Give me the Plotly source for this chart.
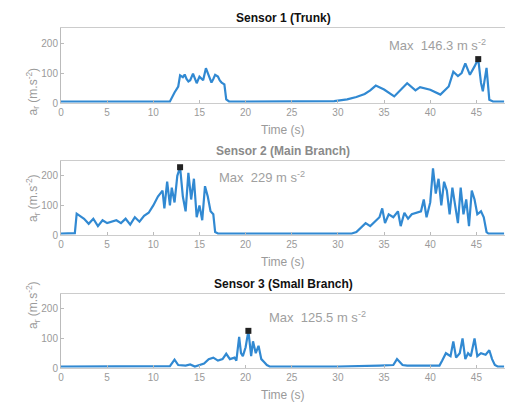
import plotly.graph_objects as go
from plotly.subplots import make_subplots

# ---- data ----
s1_t = [0, 2, 4, 6, 8, 10, 11.8, 12.3, 12.7, 12.9, 13.2, 13.4, 13.6, 13.8, 14.0, 14.3, 14.5, 14.7,
        15.0, 15.2, 15.4, 15.7, 15.9, 16.1, 16.3, 16.5, 16.7, 17.0, 17.2, 17.4, 17.7, 17.9, 18.2,
        20, 25, 29.6, 31, 32, 32.9, 33.5, 34.1, 35, 36.1, 36.8, 37.5, 38.4, 38.9, 40.0, 41.1,
        42.0, 42.5, 43.0, 43.4, 43.8, 44.3, 44.8, 45.2, 45.5, 45.7, 46.1, 46.4, 46.8, 48]
s1_v = [5, 5, 5, 6, 5, 5, 5, 35, 55, 92, 86, 95, 80, 72, 76, 98, 80, 66,
        88, 82, 76, 116, 100, 85, 68, 80, 94, 88, 75, 68, 62, 12, 5,
        5, 5, 6, 12, 20, 30, 42, 58, 45, 22, 45, 66, 42, 53, 44, 28,
        55, 104, 90, 100, 132, 94, 122, 146.3, 67, 39, 117, 11, 5, 5]

s2_t = [0, 1.0, 1.5, 1.7, 2.0, 2.5, 3.0, 3.5, 4.0, 4.5, 5.0, 5.5, 6.0, 6.5, 7.0, 7.5, 8.0, 8.5,
        9.0, 9.5, 10.0, 10.5, 11.0, 11.2, 11.5, 11.8, 12.0, 12.3, 12.6, 12.9, 13.2, 13.5, 13.8,
        14.1, 14.4, 14.7, 15.0, 15.3, 15.6, 15.9, 16.2, 16.5, 16.7, 17.0, 20, 25, 31.5,
        32.0, 32.5, 33.0, 33.5, 34.0, 34.5, 34.8, 35.1, 35.5, 36.0, 36.5, 36.8, 37.2, 37.6,
        38.0, 38.5, 39.0, 39.3, 39.6, 40.0, 40.3, 40.6, 40.9, 41.2, 41.5, 41.8, 42.1, 42.4,
        42.7, 43.0, 43.3, 43.6, 43.9, 44.2, 44.5, 44.8, 45.1, 45.5, 45.8, 46.1, 46.3, 48]
s2_v = [5, 5, 6, 72, 65, 55, 38, 55, 30, 50, 40, 45, 50, 40, 55, 35, 60, 45,
        65, 75, 100, 130, 150, 90, 180, 100, 160, 110, 200, 229, 130, 80, 210,
        120, 190, 60, 100, 50, 165, 130, 80, 70, 10, 5, 5, 5, 5,
        10, 25, 40, 30, 45, 60, 90, 40, 70, 60, 80, 30, 75, 55,
        70, 75, 80, 120, 60, 110, 225, 140, 190, 100, 180, 150, 70, 160,
        100, 40, 160, 70, 120, 30, 150, 120, 70, 80, 60, 10, 5, 5]

s3_t = [0, 4, 8, 11.8, 12.3, 12.7, 13.5, 14.0, 14.5, 15.0, 15.5, 16.0, 16.5, 17.0, 17.5, 17.9,
        18.3, 18.8, 19.0, 19.3, 19.5, 19.7, 20.0, 20.3, 20.6, 20.8, 21.1, 21.4, 21.7, 22.0,
        22.3, 22.6, 26, 30, 34.5, 36.0, 36.4, 37.0, 37.5, 41.0, 41.3, 41.7, 42.2, 42.5, 42.8,
        43.2, 43.5, 43.8, 44.1, 44.4, 44.8, 45.1, 45.5, 46.0, 46.4, 46.7, 47.0, 47.3, 48]
s3_v = [5, 5, 5, 6, 28, 10, 8, 12, 5, 10, 15, 30, 35, 25, 30, 48,
        30, 35, 25, 105, 50, 40, 70, 125.5, 40, 90, 50, 75, 30, 20,
        10, 5, 5, 5, 8, 10, 30, 10, 8, 8, 25, 50, 40, 90, 35,
        50, 100, 30, 50, 40, 100, 40, 50, 45, 60, 30, 10, 5, 5]

series = [(s1_t, s1_v), (s2_t, s2_v), (s3_t, s3_v)]
titles = ["Sensor 1 (Trunk)", "Sensor 2 (Main Branch)", "Sensor 3 (Small Branch)"]
title_colors = ["#111111", "#8a8a8a", "#111111"]
max_vals = [146.3, 229, 125.5]
max_text_pos = [(35.3, 193), (16.9, 197), (22.3, 172)]
x_ticks = [0, 5, 10, 15, 20, 25, 30, 35, 40, 45]
y_ticks = [0, 100, 200]

W, H = 505, 407
fig = make_subplots(rows=3, cols=1)

# pixel layout of plot areas (top, bottom)
rows_px = [(28, 103), (161, 235), (294, 368)]
x_left_px = 61
line_color = "#3189d2"
grey = "#9a9a9a"
FONT = "Liberation Sans"

for i, (t, v) in enumerate(series):
    r = i + 1
    fig.add_trace(go.Scatter(x=t, y=v, mode="lines",
                             line=dict(color=line_color, width=2.2)), row=r, col=1)
    k = v.index(max(v))
    fig.add_trace(go.Scatter(x=[t[k]], y=[v[k]], mode="markers",
                             marker=dict(symbol="square", size=6, color="#222222")), row=r, col=1)
    top, bot = rows_px[i]
    xa = "xaxis" if r == 1 else f"xaxis{r}"
    ya = "yaxis" if r == 1 else f"yaxis{r}"
    fig.layout[xa].update(domain=[x_left_px / W, 1.0], range=[0, 48.1],
                          tickvals=x_ticks, ticks="inside", ticklen=3,
                          tickfont=dict(size=10, color=grey, family=FONT),
                          showgrid=False, zeroline=False, showline=True, mirror=True,
                          linecolor="#cccccc", tickcolor="#bbbbbb", automargin=False)
    fig.layout[ya].update(domain=[1 - bot / H, 1 - top / H], range=[0, 250],
                          tickvals=y_ticks, ticks="inside", ticklen=3,
                          tickfont=dict(size=10, color=grey, family=FONT),
                          showgrid=False, zeroline=False, showline=True, mirror=True,
                          linecolor="#bbbbbb", tickcolor="#bbbbbb", automargin=False)
    cx = (x_left_px + W) / 2 / W
    # title
    fig.add_annotation(text=f"<b>{titles[i]}</b>", x=cx, y=1 - (top - 10) / H,
                       xref="paper", yref="paper", showarrow=False, yanchor="middle",
                       font=dict(size=12, color=title_colors[i], family=FONT))
    # x label
    fig.add_annotation(text="Time (s)", x=cx, y=1 - (bot + 27) / H,
                       xref="paper", yref="paper", showarrow=False, yanchor="middle",
                       font=dict(size=12, color=grey, family=FONT))
    # y label
    fig.add_annotation(text="a<sub>r</sub> (m.s<sup>-2</sup>)", x=22 / W,
                       y=1 - ((top + bot) / 2) / H, xref="paper", yref="paper",
                       showarrow=False, textangle=-90,
                       font=dict(size=12, color=grey, family=FONT))
    # max text
    mx, my = max_text_pos[i]
    fig.add_annotation(text=f"Max  {max_vals[i]} m s<sup>-2</sup>", x=mx, y=my,
                       xref=xa.replace("axis", ""), yref=ya.replace("axis", ""),
                       xanchor="left", showarrow=False,
                       font=dict(size=13, color="#a0a0a0", family=FONT))

fig.update_layout(width=W, height=H, margin=dict(l=0, r=0, t=0, b=0),
                  plot_bgcolor="white", paper_bgcolor="white", showlegend=False)

fig.write_html("out.html", config={"displayModeBar": False},
               post_script="document.body.style.margin='0';")
